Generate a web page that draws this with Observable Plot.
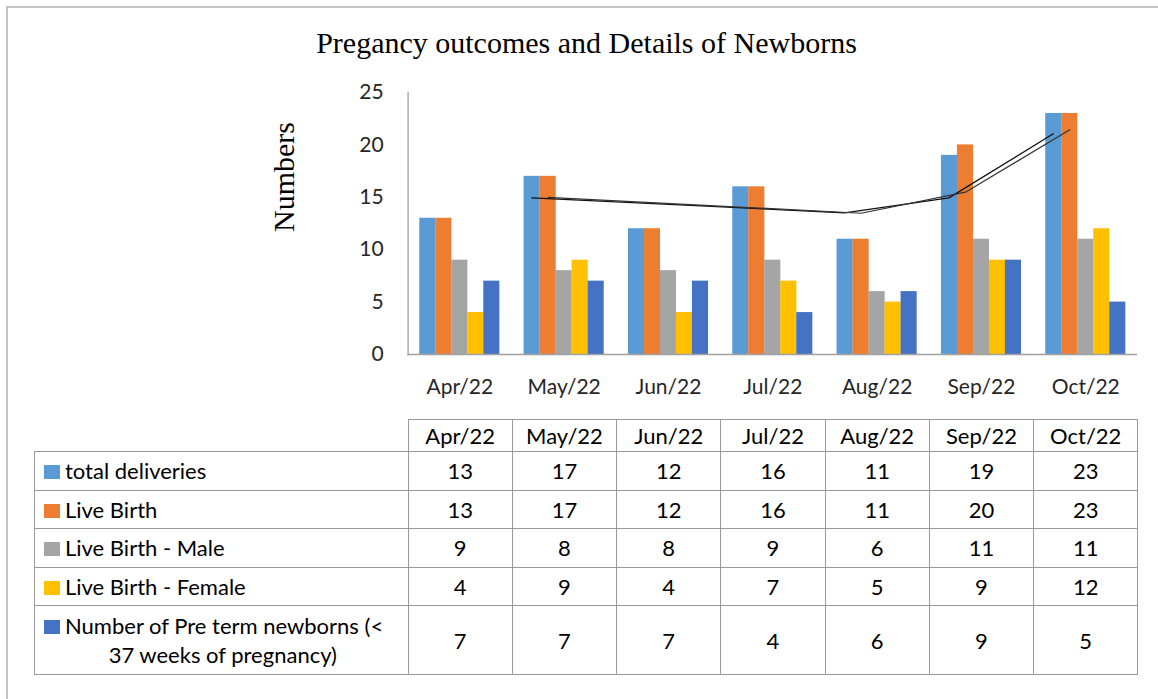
<!DOCTYPE html>
<html><head><meta charset="utf-8">
<script src="https://cdn.jsdelivr.net/npm/d3@7"></script>
<script src="https://cdn.jsdelivr.net/npm/@observablehq/plot@0.6"></script>
<style>
html,body{margin:0;padding:0;background:#fff;}
#wrap{position:relative;width:1158px;height:699px;overflow:hidden;background:#fff;}
#frame{position:absolute;left:6px;top:6px;width:1300px;height:900px;border-left:2px solid #c4c4c4;border-top:2px solid #c4c4c4;}
#title{position:absolute;left:586.5px;top:28px;transform:translateX(-50%);font-family:"Liberation Serif",serif;font-size:30px;line-height:1;white-space:nowrap;color:#000;}
#ylab{position:absolute;left:284px;top:177px;transform:translate(-50%,-50%) rotate(-90deg);font-family:"Liberation Serif",serif;font-size:30px;line-height:1;white-space:nowrap;color:#000;}
#chart{position:absolute;left:0;top:60px;}
#tbl{position:absolute;left:34px;top:419px;border-collapse:collapse;table-layout:fixed;font-family:Lato,sans-serif;font-size:22px;color:#000;}
#tbl td{border:1px solid #9a9a9a;padding:0;text-align:center;vertical-align:middle;}
#tbl td.blank{border:none;}
#tbl td.lab{text-align:left;padding-left:9px;white-space:nowrap;}
#tbl td.lab .l2{text-align:center;}
#tbl td.lab.wrap{line-height:29px;padding-right:6px;}
.sq{display:inline-block;width:16px;height:14px;margin-right:5px;}
</style>
</head><body>
<div id="wrap">
  <div id="frame"></div>
  <div id="title">Pregancy outcomes and Details of Newborns</div>
  <div id="chart"></div>
  <div id="ylab">Numbers</div>
  <table id="tbl"></table>
</div>
<script>
const months = ["Apr/22","May/22","Jun/22","Jul/22","Aug/22","Sep/22","Oct/22"];
const seriesNames = ["total deliveries","Live Birth","Live Birth - Male","Live Birth - Female","Number of Pre term newborns (< 37 weeks of pregnancy)"];
const totalDeliveries = [13,17,12,16,11,19,23];
const liveBirth = [13,17,12,16,11,20,23];
const liveBirthMale = [9,8,8,9,6,11,11];
const liveBirthFemale = [4,9,4,7,5,9,12];
const pretermNewborns = [7,7,7,4,6,9,5];
const colors = ["#5B9BD5","#ED7D31","#A5A5A5","#FFC000","#4472C4"];
const yTicks = [0,5,10,15,20,25];
// hand-drawn trend line (double stroke)
const trendMonths = ["May/22","Aug/22","Sep/22","Oct/22"];
const trendA = [14.95,13.52,14.95,21.06];
const trendB = [15.0,13.48,15.49,21.44];

const seriesValues = [totalDeliveries, liveBirth, liveBirthMale, liveBirthFemale, pretermNewborns];
const barW = 16;
const barMarks = seriesValues.map((vals, i) =>
  Plot.barY(months.map((m, j) => ({month: m, value: vals[j]})), {
    x: "month", y: "value", fill: colors[i],
    insetLeft: barW * i, insetRight: barW * (seriesValues.length - 1 - i)
  })
);
const trendDataA = trendMonths.map((m, i) => ({month: m, value: trendA[i]}));
const trendDataB = trendMonths.map((m, i) => ({month: m, value: trendB[i]}));

const chart = Plot.plot({
  width: 1158, height: 350,
  marginTop: 32, marginBottom: 56, marginLeft: 407.6, marginRight: 21,
  style: {fontFamily: "Lato, sans-serif", fontSize: "21px", color: "#262626", background: "transparent", overflow: "visible"},
  x: {domain: months, paddingInner: 0.2322, paddingOuter: 0.112, round: false, label: null, tickSize: 0, tickPadding: 25},
  y: {domain: [0, 25], ticks: yTicks, tickSize: 0, tickPadding: 24.5, label: null},
  marks: [
    ...barMarks,
    Plot.ruleY([0], {stroke: "#a0a0a0", strokeWidth: 1.3}),
    Plot.frame({anchor: "left", stroke: "#a0a0a0", strokeWidth: 1.3}),
    Plot.line(trendDataA, {x: "month", y: "value", dx: -32.5, stroke: "#111", strokeWidth: 1.3}),
    Plot.line(trendDataB, {x: "month", y: "value", dx: -16, stroke: "#333", strokeWidth: 1.2})
  ]
});
document.getElementById("chart").appendChild(chart);

// data table
const tbl = d3.select("#tbl");
const cg = tbl.append("colgroup");
cg.append("col").style("width", "373.6px");
months.forEach(() => cg.append("col").style("width", "104.25px"));
const hr = tbl.append("tr").style("height", "32px");
hr.append("td").attr("class", "blank");
months.forEach(m => hr.append("td").text(m));
seriesNames.forEach((name, i) => {
  const last = i === seriesNames.length - 1;
  const tr = tbl.append("tr").style("height", last ? "69px" : "38.6px");
  const td = tr.append("td").attr("class", last ? "lab wrap" : "lab");
  if (last) {
    const l1 = td.append("div");
    l1.append("span").attr("class", "sq").style("background", colors[i]);
    l1.append("span").text("Number of Pre term newborns (<");
    td.append("div").attr("class", "l2").text("37 weeks of pregnancy)");
  } else {
    td.append("span").attr("class", "sq").style("background", colors[i]);
    td.append("span").text(name);
  }
  seriesValues[i].forEach(v => tr.append("td").text(v));
});
</script>
</body></html>
